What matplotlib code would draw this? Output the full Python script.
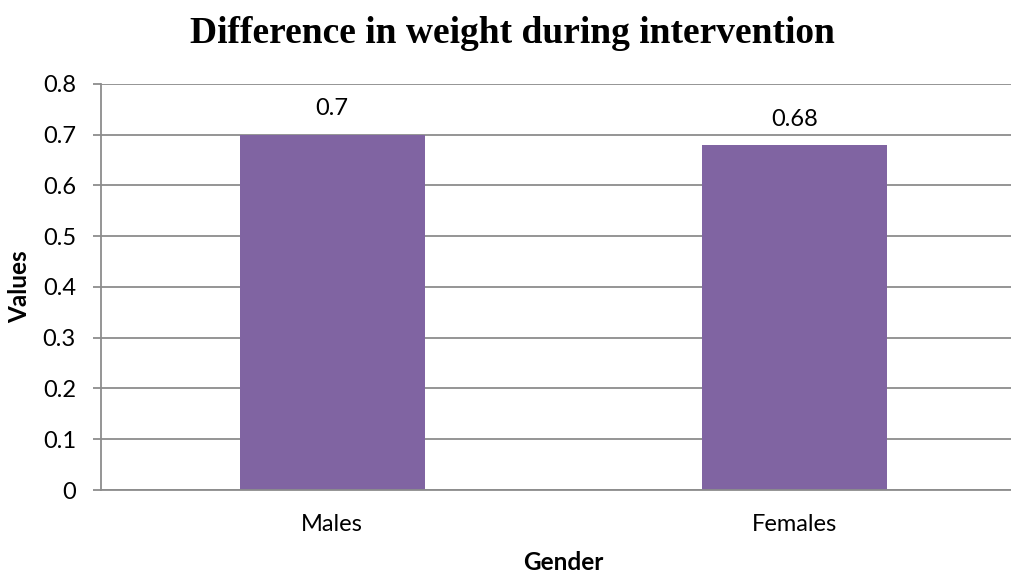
import matplotlib
matplotlib.use("Agg")
import matplotlib.pyplot as plt

categories = ["Males", "Females"]
values = [0.7, 0.68]
value_labels = ["0.7", "0.68"]
yticks = [0, 0.1, 0.2, 0.3, 0.4, 0.5, 0.6, 0.7, 0.8]
ytick_labels = ["0", "0.1", "0.2", "0.3", "0.4", "0.5", "0.6", "0.7", "0.8"]

grey = "#8c8c8c"
purple = "#8064a2"

fig = plt.figure(figsize=(10.12, 5.75), dpi=100, facecolor="white")
# plot area runs a little past the right edge of the canvas
ax = fig.add_axes([0.0998, 0.1478, 0.914, 0.7062])

x = range(len(categories))
bars = ax.bar(x, values, width=0.40, color=purple, zorder=3)
ax.set_xlim(-0.5, len(categories) - 0.5)
ax.set_ylim(0, 0.8)

ax.set_yticks(yticks)
ax.set_yticklabels(ytick_labels, fontsize=17, family="Lato")
ax.set_xticks(list(x))
ax.set_xticklabels(categories, fontsize=17, family="Lato")
ax.tick_params(axis="y", length=6, width=1.3, color=grey, pad=12)
ax.tick_params(axis="x", length=0, pad=17)

ax.grid(axis="y", color=grey, linewidth=1.3, zorder=0)
for side in ["top", "right"]:
    ax.spines[side].set_visible(False)
for side in ["left", "bottom"]:
    ax.spines[side].set_color(grey)
    ax.spines[side].set_linewidth(1.3)
ax.spines["bottom"].set_zorder(4)

for b, lab in zip(bars, value_labels):
    ax.annotate(lab, (b.get_x() + b.get_width() / 2, b.get_height()),
                xytext=(0, 11), textcoords="offset points",
                ha="center", va="bottom", fontsize=17, family="Lato")

ax.set_xlabel("Gender", fontsize=17.5, fontweight="bold", family="Lato", labelpad=12)
ax.set_ylabel("Values", fontsize=17.5, fontweight="bold", family="Lato", labelpad=8)

fig.suptitle("Difference in weight during intervention", x=0.506, y=0.972,
             fontsize=27, fontweight="bold", family="Liberation Serif")

fig.savefig("out.png", dpi=100, facecolor="white")
